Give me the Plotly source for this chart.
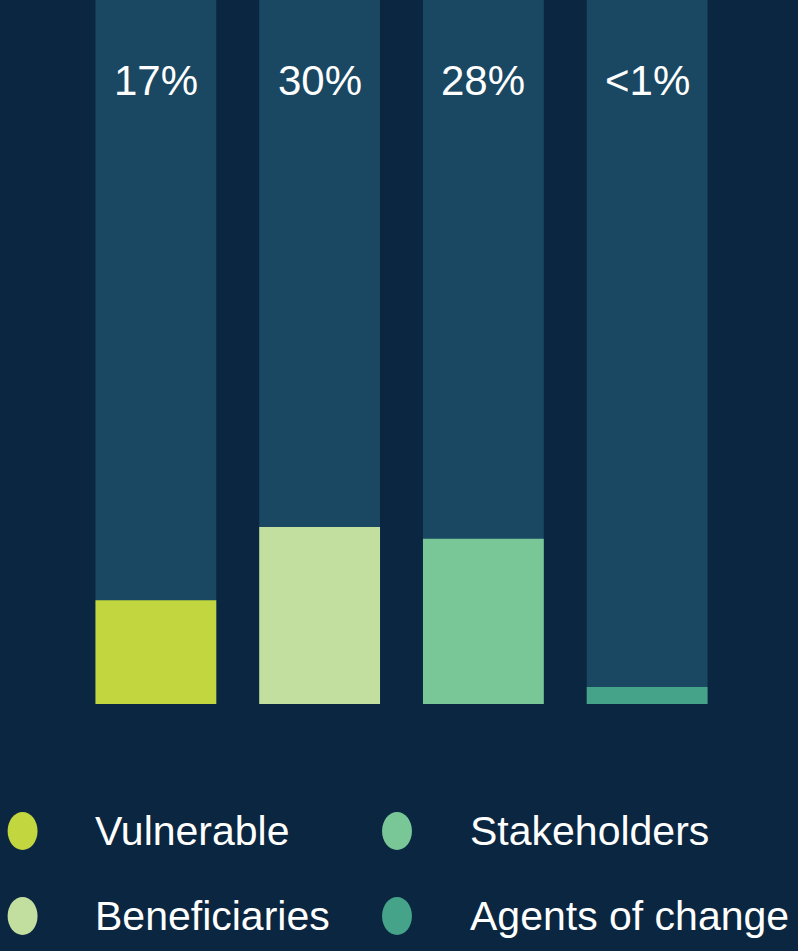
import plotly.graph_objects as go

# ---- data ----
categories = ["Vulnerable", "Beneficiaries", "Stakeholders", "Agents of change"]
shares = [17.6, 30, 28, 2.9]          # bar heights (%)
labels = ["17%", "30%", "28%", "<1%"]
colors = ["#c1d63f", "#c3dfa0", "#79c797", "#45a38a"]
track_max = [119.3, 119.3, 119.3, 119.3]

BG = "#0b2640"
TRACK = "#1a4862"
FONT = "Liberation Sans, Arial, Helvetica, sans-serif"

W, H = 798, 951
ML, MR, MT, MB = 73.5, 68.5, 0, 247
PW, PH = W - ML - MR, H - MT - MB

def px_x(p):
    return (p - ML) / PW

def px_y(p):
    return (H - MB - p) / PH

fig = go.Figure()
fig.add_trace(go.Bar(x=categories, y=track_max, marker=dict(color=TRACK, line=dict(width=0)),
                     showlegend=False, hoverinfo="skip"))
fig.add_trace(go.Bar(x=categories, y=shares, marker=dict(color=colors, line=dict(width=0)),
                     showlegend=False))

annotations = []
for c, lab in zip(categories, labels):
    annotations.append(dict(x=c, y=px_y(80), xref="x", yref="paper", text=lab,
                            showarrow=False, yanchor="middle",
                            font=dict(family=FONT, size=42, color="white")))

shapes = []
legend_cols = [22, 397]
legend_rows = [831, 916]
order = [(0, 0), (1, 0), (0, 1), (1, 1)]  # (row, col) for each category
for (r, ccol), name, col in zip(order, categories, colors):
    cx, cy = legend_cols[ccol], legend_rows[r]
    shapes.append(dict(type="circle", xref="paper", yref="paper",
                       x0=px_x(cx - 15), x1=px_x(cx + 15),
                       y0=px_y(cy + 19), y1=px_y(cy - 19),
                       fillcolor=col, line=dict(width=0)))
    annotations.append(dict(x=px_x(cx + 71), y=px_y(cy), xref="paper", yref="paper",
                            text=name, showarrow=False, xanchor="left", yanchor="middle",
                            font=dict(family=FONT, size=41, color="white")))

fig.update_layout(
    width=W, height=H,
    margin=dict(l=ML, r=MR, t=MT, b=MB),
    paper_bgcolor=BG, plot_bgcolor=BG,
    barmode="overlay", bargap=1 - 121 / 164,
    xaxis=dict(visible=False),
    yaxis=dict(visible=False, range=[0, 119.3]),
    annotations=annotations, shapes=shapes,
)

fig.write_html("out.html")
